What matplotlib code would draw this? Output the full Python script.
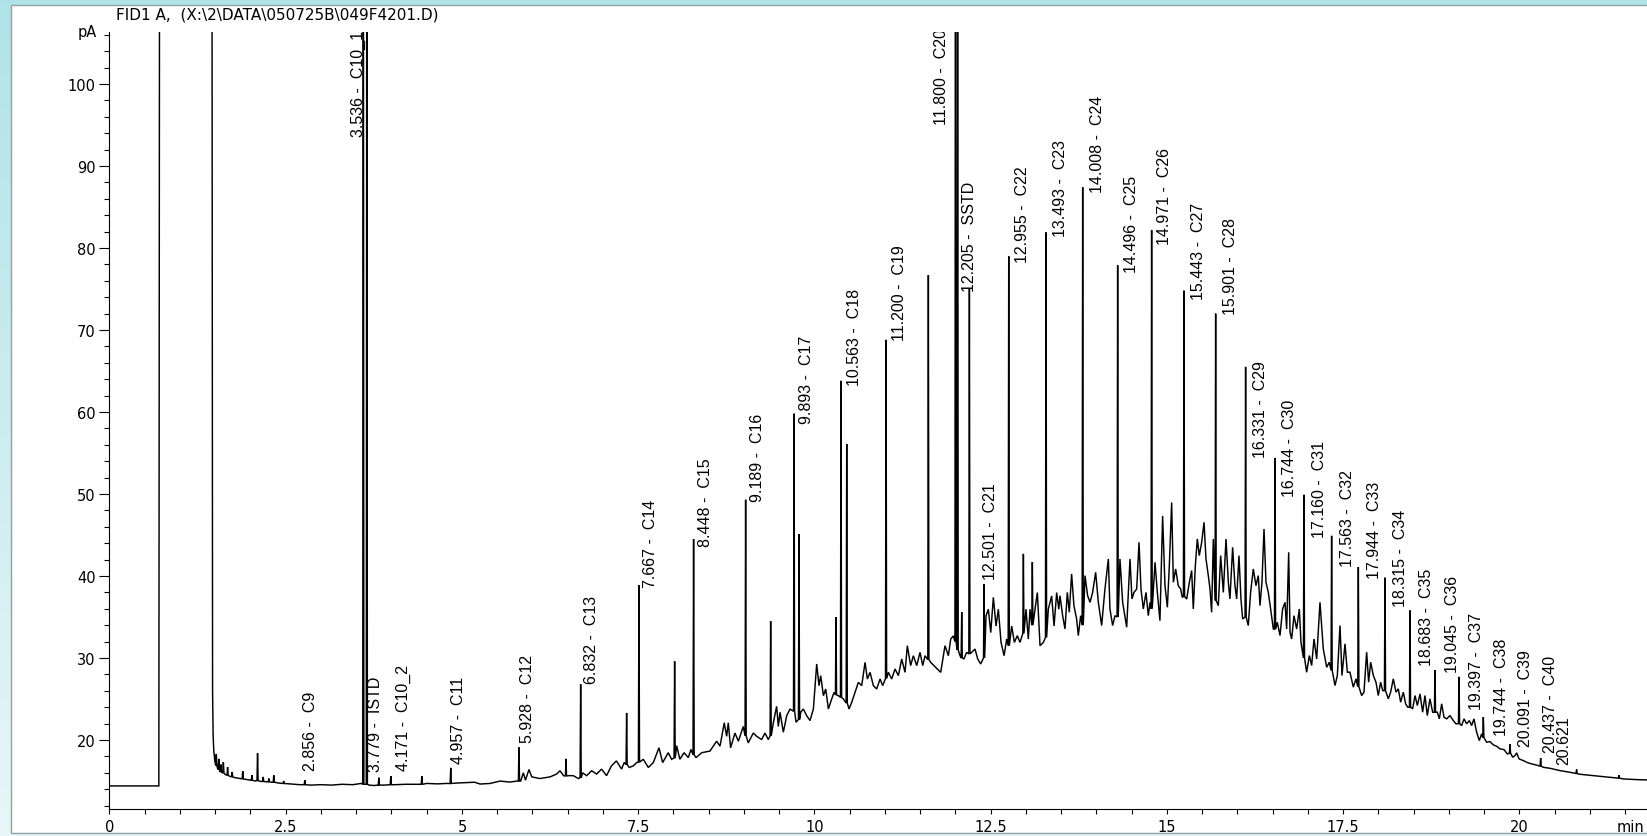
import matplotlib
matplotlib.use("Agg")
import matplotlib.pyplot as plt
import numpy as np
from matplotlib.patches import Rectangle
from matplotlib.ticker import MultipleLocator, FixedLocator, FuncFormatter

# ---------------- data ----------------
title_text = "FID1 A,  (X:\\2\\DATA\\050725B\\049F4201.D)"

# background trace vertices: retention time (min) and signal (pA)
bg_t = [0.00, 0.70, 0.712, 1.452, 1.462, 1.470, 1.480, 1.495, 1.53, 1.565, 1.60, 1.64, 1.70,
        1.78, 1.86, 1.93, 2.00, 2.06, 2.14, 2.22, 2.30, 2.40, 2.55, 2.70, 2.85, 3.00, 3.15,
        3.30, 3.45, 3.57, 3.625, 3.68, 3.75, 3.90, 4.05, 4.20, 4.35, 4.50, 4.65, 4.78, 4.92,
        5.05, 5.18,
        5.255, 5.397, 5.539, 5.68, 5.775, 5.832, 5.87, 5.90, 5.95, 5.99, 6.106, 6.248, 6.342,
        6.39, 6.44, 6.508, 6.579, 6.65, 6.711, 6.768, 6.839, 6.91, 6.98, 7.05, 7.12, 7.19,
        7.264, 7.30, 7.373, 7.43, 7.477, 7.572, 7.643, 7.714, 7.794, 7.846, 7.926, 7.973,
        8.045, 8.09, 8.15, 8.21, 8.248, 8.32, 8.40, 8.517, 8.612, 8.66, 8.72, 8.754, 8.777,
        8.81, 8.872, 8.92, 8.99, 9.06, 9.132, 9.18, 9.25, 9.297, 9.345, 9.416, 9.463, 9.487,
        9.511, 9.558, 9.606, 9.653, 9.738, 9.804, 9.842, 9.889, 9.936, 9.984, 10.031, 10.064,
        10.088, 10.126, 10.159, 10.197, 10.244, 10.277, 10.338, 10.41, 10.49, 10.528, 10.575,
        10.622, 10.67, 10.717, 10.75, 10.788, 10.835, 10.882, 10.93, 10.967, 11.048, 11.095,
        11.142, 11.19, 11.237, 11.284, 11.317, 11.364, 11.402, 11.45, 11.497, 11.535, 11.568,
        11.648, 11.695, 11.743, 11.79, 11.851, 11.899, 11.932, 11.97, 12.064, 12.12, 12.158,
        12.23, 12.277, 12.315, 12.357, 12.433, 12.466, 12.5, 12.537, 12.575, 12.608, 12.646,
        12.689, 12.726, 12.797, 12.835, 12.877, 12.915, 13.0, 13.033, 13.057, 13.128, 13.161,
        13.199, 13.246, 13.317, 13.364, 13.398, 13.435, 13.465,
        13.482, 13.52, 13.553, 13.586, 13.614, 13.647, 13.68, 13.718, 13.742, 13.775, 13.837,
        13.874, 13.908, 13.945, 13.988, 14.026, 14.073, 14.12, 14.168, 14.191, 14.229, 14.262,
        14.333, 14.371, 14.428, 14.475, 14.503, 14.532, 14.57, 14.603, 14.631, 14.664, 14.702,
        14.735, 14.759, 14.83, 14.863, 14.9, 14.938, 14.971, 15.005, 15.033, 15.066, 15.09,
        15.123, 15.16, 15.194, 15.217, 15.279, 15.317, 15.35, 15.373, 15.402, 15.43, 15.458,
        15.492, 15.525, 15.553, 15.586, 15.61, 15.633, 15.657, 15.728, 15.761, 15.799, 15.837,
        15.87, 15.893, 15.931, 15.964, 15.988, 16.021, 16.049, 16.073, 16.153, 16.186, 16.224,
        16.262, 16.295, 16.319, 16.347, 16.376, 16.404, 16.437, 16.47, 16.508, 16.565, 16.603,
        16.64, 16.674, 16.697, 16.726, 16.745, 16.768, 16.801, 16.839, 16.877, 16.9, 16.981,
        17.019, 17.052, 17.085, 17.123, 17.151,
        17.17, 17.217, 17.265, 17.302, 17.383, 17.416, 17.454, 17.482, 17.525, 17.558, 17.595,
        17.643, 17.681, 17.761, 17.794, 17.832, 17.86, 17.889, 17.927, 17.964, 17.997, 18.03,
        18.059, 18.139, 18.172, 18.21, 18.248, 18.281, 18.314, 18.352, 18.385, 18.414, 18.484,
        18.518, 18.551, 18.589, 18.626, 18.659, 18.692, 18.73, 18.768, 18.834, 18.863, 18.896,
        18.929, 18.967, 19.014, 19.061, 19.099, 19.179, 19.213, 19.25, 19.288, 19.321, 19.354,
        19.392, 19.43, 19.463, 19.534, 19.581, 19.629, 19.676, 19.723, 19.78, 19.827, 19.903,
        19.936, 19.96, 19.993, 20.054, 20.125, 20.196, 20.267, 20.338, 20.432, 20.574, 20.716,
        20.787, 20.858, 21.047, 21.236, 21.378, 21.473, 21.662, 21.804]
bg_pA = [14.4, 14.4, 140, 140, 26.0, 20.5, 18.6, 17.4, 16.6, 16.2, 16.0, 15.8, 15.6,
         15.4, 15.3, 15.2, 15.1, 15.0, 14.95, 14.9, 14.85, 14.75, 14.65, 14.55, 14.5, 14.55, 14.5,
         14.6, 14.55, 14.7, 14.6, 14.5, 14.45, 14.5, 14.55, 14.6, 14.6, 14.7, 14.65, 14.7, 14.75,
         14.8, 14.85,
         14.63, 14.7, 14.99, 14.87, 14.99, 14.99, 16.0, 15.1, 16.4, 15.5, 15.3, 15.5, 15.85,
         16.25, 15.65, 15.65, 15.65, 15.3, 16.0, 15.65, 16.25, 15.85, 16.45, 15.65, 16.85, 17.45,
         16.45, 17.25, 16.65, 16.85, 17.25, 17.65, 16.65, 17.25, 19.05, 17.25, 18.45, 17.65,
         19.3, 17.65, 18.45, 17.85, 18.85, 17.85, 18.45, 18.65, 19.85, 19.25, 22.1, 20.45, 22.1,
         19.05, 20.85, 19.85, 21.65, 19.65, 20.85, 20.45, 20.05, 20.85, 20.05, 22.1, 24.1, 21.65,
         23.38, 20.95, 22.97, 23.78, 22.16, 23.38, 23.78, 22.97, 22.37, 23.78, 29.27, 26.63,
         27.85, 25.41, 26.22, 23.78, 25.0, 25.8, 25.41, 25.0, 23.78, 24.6, 25.8,
         27.03, 26.63, 29.47, 27.44, 28.25, 26.63, 26.22, 27.44, 26.63, 28.25, 27.44,
         28.66, 27.85, 29.88, 28.25, 31.5, 29.07, 30.28, 29.07, 30.69, 29.07, 30.28,
         29.47, 29.07, 28.66, 28.25, 31.5, 30.28, 32.31, 32.7, 30.28, 29.88, 30.69,
         30.69, 31.09, 29.88, 29.27, 35.14, 35.95, 33.1, 37.4, 33.9, 35.95, 31.9,
         30.28, 32.31, 33.9, 31.9, 32.72, 31.9, 35.95, 32.31, 35.95, 35.95, 37.98,
         31.5, 31.9, 35.95, 37.57, 33.9, 37.98, 35.95,
         37.6, 35.16, 33.54, 38.0, 35.57, 40.25, 36.38, 34.76, 32.73, 35.16, 40.05,
         37.6, 36.79, 38.0, 40.45, 36.79, 33.95, 38.41, 42.08, 35.98, 33.95, 35.16,
         42.08, 36.79, 33.75, 42.08, 37.2, 38.0, 38.41, 44.11, 38.41, 35.98, 38.0,
         35.16, 36.79, 41.67, 38.0, 34.55, 47.33, 38.82, 36.18, 41.26, 48.96, 39.23,
         40.86, 38.82, 38.41, 37.39, 37.19, 39.23, 40.66, 35.98, 41.26, 44.52, 42.49,
         44.11, 46.55, 42.08, 40.05, 38.41, 35.57, 44.52, 36.38, 42.49, 38.0, 44.52,
         39.23, 37.2, 43.5, 38.82, 37.2, 42.49, 37.2, 34.76, 33.95, 38.0, 40.86,
         38.82, 40.05, 36.38, 39.23, 45.74, 39.23, 38.0, 35.98, 33.54, 34.35, 32.73,
         35.98, 36.79, 33.54, 42.89, 33.14, 32.32, 35.16, 33.54, 35.98, 31.91, 28.26,
         30.3, 29.08, 32.32, 29.89, 33.95,
         36.79, 31.1, 28.87, 29.48, 26.64, 27.86, 33.96, 27.86, 31.73, 28.27, 28.27,
         26.44, 27.46, 25.42, 25.83, 30.71, 27.05, 29.49, 27.86, 27.05, 25.42, 27.05,
         26.03, 25.02, 25.83, 27.46, 25.83, 26.24, 24.61, 25.83, 24.41, 24.0, 23.8,
         25.42, 24.2, 25.63, 23.39, 25.42, 22.98, 25.02, 23.39, 23.39, 22.58, 24.41,
         22.78, 22.58, 22.98, 22.37, 21.97, 21.76, 22.58, 21.97, 22.37, 21.76, 22.58,
         20.95, 19.93, 20.75, 19.73, 19.81, 19.4, 19.24, 18.92, 18.83, 18.3, 17.9,
         18.1, 18.43, 17.7, 17.49, 17.2, 17.04, 16.88, 16.67, 16.55, 16.27, 16.06,
         15.94, 15.82, 15.65, 15.49, 15.37, 15.25, 15.17, 15.13]

# sharp peaks: apex time (min), apex height (pA), foot level (pA)
peak_t = [1.515, 1.55, 1.58, 1.615, 1.675, 1.74, 1.89, 2.02, 2.10, 2.18, 2.26, 2.33, 2.47,
          2.77, 3.60, 3.65, 3.82, 3.99, 4.43, 4.84, 5.808, 6.475, 6.683, 7.335, 7.51, 8.016,
          8.285, 9.023, 9.378, 9.71, 9.78, 10.305, 10.376, 10.457, 11.015, 11.615, 12.0, 12.03,
          12.088, 12.197, 12.405, 12.755, 12.963, 13.09, 13.284, 13.804, 14.30, 14.782, 15.241,
          15.69, 16.115, 16.532, 16.943, 17.335, 17.714, 18.092, 18.447, 18.801, 19.142, 19.487,
          19.865, 20.30, 20.81, 21.41]
peak_top = [18.3, 17.7, 17.0, 17.3, 16.7, 16.1, 16.2, 15.7, 18.4, 15.5, 15.3, 15.7, 15.0,
            15.1, 140, 140, 15.4, 15.6, 15.6, 16.6, 19.1, 17.7, 26.8, 23.3, 38.9, 29.6,
            44.5, 49.3, 34.5, 59.8, 45.1, 35.0, 63.8, 56.1, 68.8, 76.7, 140, 140,
            35.6, 75.0, 39.0, 79.0, 42.7, 41.7, 81.9, 87.4, 77.9, 82.2, 74.8,
            72.0, 65.5, 54.4, 49.9, 44.9, 41.1, 39.8, 35.8, 28.5, 27.7, 22.8,
            19.5, 17.8, 16.4, 15.7]
peak_foot = [16.9, 16.4, 16.1, 16.0, 15.7, 15.5, 15.25, 15.1, 15.05, 14.95, 14.9, 14.85, 14.7,
             14.55, 14.6, 14.6, 14.5, 14.55, 14.6, 14.7, 15.0, 15.6, 15.4, 17.0, 17.3, 17.8,
             18.2, 20.5, 20.5, 23.5, 22.5, 25.5, 25.2, 24.5, 27.5, 29.8, 32.0, 31.0,
             30.0, 30.5, 30.0, 31.5, 33.0, 34.0, 32.5, 34.0, 35.0, 36.0, 37.5,
             37.0, 35.0, 33.5, 30.0, 28.5, 26.5, 26.0, 24.0, 23.4, 22.0, 20.3,
             18.4, 16.8, 15.9, 15.35]

# peak annotations: retention time, compound name, bottom of label (pA)
label_rt = [2.856, 3.536, 3.779, 4.171, 4.957, 5.928, 6.832, 7.667, 8.448, 9.189, 9.893,
            10.563, 11.200, 11.800, 12.205, 12.501, 12.955, 13.493, 14.008, 14.496, 14.971,
            15.443, 15.901, 16.331, 16.744, 17.160, 17.563, 17.944, 18.315, 18.683, 19.045,
            19.397, 19.744, 20.091, 20.437, 20.621]
label_name = ["C9", "C10_1", "ISTD", "C10_2", "C11", "C12", "C13", "C14", "C15", "C16", "C17",
              "C18", "C19", "C20", "SSTD", "C21", "C22", "C23", "C24", "C25", "C26",
              "C27", "C28", "C29", "C30", "C31", "C32", "C33", "C34", "C35", "C36",
              "C37", "C38", "C39", "C40", ""]
label_bottom = [16.3, 93.7, 16.2, 16.3, 17.2, 19.8, 26.9, 38.6, 43.7, 49.1, 58.6,
                63.3, 68.8, 95.1, 74.8, 39.6, 78.3, 81.5, 86.8, 77.1, 80.5,
                73.8, 72.0, 54.5, 49.8, 44.8, 41.2, 39.8, 36.3, 29.1, 28.3,
                23.8, 20.6, 19.3, 18.5, 17.1]

x_major = [0, 2.5, 5, 7.5, 10, 12.5, 15, 17.5, 20]
y_major = [20, 30, 40, 50, 60, 70, 80, 90, 100]

# ---------------- figure ----------------
W, H = 1647, 837
fig = plt.figure(figsize=(W / 100, H / 100), dpi=100)

# gradient backdrop
bg = fig.add_axes([0, 0, 1, 1], zorder=-3)
top_c = np.array([0.69, 0.89, 0.91])
bot_c = np.array([0.91, 0.965, 0.97])
grad = np.linspace(0, 1, 256)[:, None]
img = top_c[None, None, :] * (1 - grad[:, :, None]) + bot_c[None, None, :] * grad[:, :, None]
bg.imshow(np.repeat(img, 2, axis=1), aspect="auto", extent=[0, 1, 0, 1], origin="upper")
bg.set_axis_off()

# white panel
panel = Rectangle((11 / W, 3 / H), 1.0, (834 - 6) / H, transform=fig.transFigure,
                  facecolor="white", edgecolor="#8fa3a6", linewidth=1.0, zorder=-2)
fig.patches.append(panel)

# main axes
px_per_min = 70.5
px_per_pA = 8.2
x0_px = 109.5
y20_px = 741.0
ymin, ymax = 11.55, 106.3
xmax = 22.0
bottom_px = y20_px + (20 - ymin) * px_per_pA
top_px = y20_px - (ymax - 20) * px_per_pA
ax = fig.add_axes([x0_px / W, (H - bottom_px) / H, xmax * px_per_min / W,
                   (bottom_px - top_px) / H], zorder=1)
ax.patch.set_alpha(0)

# build trace
hw = 0.008
pts = list(zip(bg_t, bg_pA))
for t, top, foot in zip(peak_t, peak_top, peak_foot):
    pts += [(t - hw, foot), (t, top), (t + hw, foot)]
pts.sort(key=lambda p: p[0])
tt = np.array([p[0] for p in pts])
yy = np.array([p[1] for p in pts])
ax.plot(tt, yy, color="black", lw=1.05, solid_joinstyle="miter")

ax.set_xlim(0, xmax)
ax.set_ylim(ymin, ymax)
for s in ("top", "right"):
    ax.spines[s].set_visible(False)
for s in ("left", "bottom"):
    ax.spines[s].set_linewidth(0.8)
    ax.spines[s].set_color("black")

ax.xaxis.set_major_locator(FixedLocator(x_major))
ax.xaxis.set_minor_locator(MultipleLocator(0.5))
ax.xaxis.set_major_formatter(FuncFormatter(lambda v, p: f"{v:g}"))
ax.yaxis.set_major_locator(FixedLocator(y_major))
ax.yaxis.set_minor_locator(MultipleLocator(2))
ax.yaxis.set_major_formatter(FuncFormatter(lambda v, p: f"{v:g}"))

ax.tick_params(axis="y", which="major", length=7.2, width=0.8, pad=2.6, direction="out")
ax.tick_params(axis="y", which="minor", length=3.9, width=0.8, direction="out")
ax.tick_params(axis="x", which="both", length=3.6, width=0.8, pad=3.6, direction="out")
for lab in ax.get_xticklabels() + ax.get_yticklabels():
    lab.set_fontfamily("DejaVu Sans")
    lab.set_fontsize(10.5)

# x unit label at the right edge, level with the tick labels
fig.text(1644 / W, (H - (bottom_px + 10)) / H, "min", ha="right", va="top",
         fontsize=10.5, family="DejaVu Sans")

# y unit label
fig.text(97 / W, 1 - 33 / H, "pA", ha="right", va="center", fontsize=10.5,
         family="DejaVu Sans")

# title
fig.text(116 / W, 1 - 19.5 / H, title_text, ha="left", va="baseline", fontsize=11,
         family="DejaVu Sans")

# peak labels
for rt, name, yb in zip(label_rt, label_name, label_bottom):
    txt = f"{rt:.3f} -  {name}" if name else f"{rt:.3f}"
    ax.text(rt, yb, txt, rotation=90, ha="center", va="bottom", fontsize=11.5,
            family="Liberation Sans", clip_on=True)

fig.savefig("out.png", dpi=100)
